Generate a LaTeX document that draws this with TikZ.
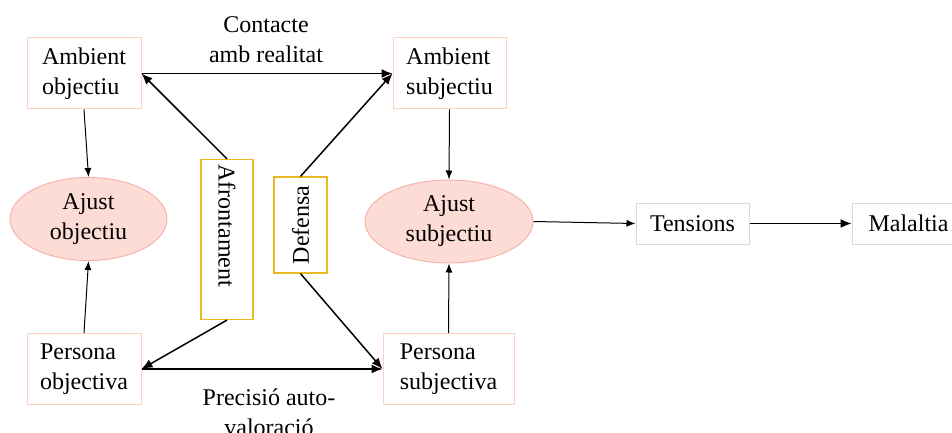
\documentclass[tikz,border=0pt]{standalone}
\usepackage{fontspec}
\setmainfont{Liberation Serif}
\usetikzlibrary{shapes.geometric,arrows.meta}

\definecolor{peachline}{HTML}{FAD2BE}
\definecolor{blobfill}{HTML}{FDDCD6}
\definecolor{blobline}{HTML}{F4B4AA}
\definecolor{goldline}{HTML}{E8B923}
\definecolor{greyline}{HTML}{D9D9D9}

\tikzset{
	mainbox/.style={draw=peachline, line width=1pt, fill=white, align=left,
		minimum height=71pt, inner xsep=0pt},
	fitblob/.style={ellipse, draw=blobline, line width=1pt, fill=blobfill,
		align=center, minimum height=83pt, inner sep=0pt},
	copebox/.style={draw=goldline, line width=1.2pt, fill=white},
	endbox/.style={draw=greyline, line width=1pt, fill=white,
		minimum width=113pt, minimum height=41pt},
	link/.style={-{Latex[length=9pt,width=7pt]}, line width=1pt},
	thick link/.style={-{Latex[length=11pt,width=9pt]}, line width=1.5pt},
}

\begin{document}
\begin{tikzpicture}[x=1pt, y=-1pt, font=\fontsize{24}{30}\selectfont]

	\useasboundingbox (0,0) rectangle (952,433);

	% ---- the four persona / ambient boxes

	\node[mainbox, minimum width=114pt] (AO) at (84,73.5) {Ambient\\objectiu};
	\node[mainbox, minimum width=113pt] (AS) at (449.5,73.5) {Ambient\\subjectiu};
	\node[mainbox, minimum width=114pt] (PO) at (84,369) {Persona\\objectiva};
	\node[mainbox, minimum width=131pt] (PS) at (448.5,369) {Persona\\subjectiva};

	% ---- fit

	\node[fitblob, minimum width=157pt] (JO) at (88.5,219) {Ajust\\objectiu};
	\node[fitblob, minimum width=168pt] (JS) at (449,221.5) {Ajust\\subjectiu};

	% ---- coping (rotated)

	\node[copebox, rotate=-90, minimum width=160pt, minimum height=52pt,
		inner xsep=5pt, text width=150pt, align=left] (AF) at (227,239.5) {Afrontament};
	\node[copebox, rotate=90, minimum width=96pt, minimum height=53pt] (DF) at (300.5,225) {Defensa};

	% ---- outcome

	\node[endbox] (TN) at (692.5,223.5) {Tensions};
	\node[endbox] (ML) at (908.5,223.5) {Malaltia};

	% ---- labels

	\node[align=center] (contacte) at (266,40) {Contacte\\amb realitat};
	\node[align=center] (precisio) at (269,412) {Precisió auto-\\valoració};

	% ---- connectors

	\draw[thick link] (AO.east) -- (AS.west);
	\draw[thick link] (PO.east) -- (PS.west);
	\draw[thick link] (AF.west) -- (AO.east);
	\draw[thick link] (AF.east) -- (PO.east);
	\draw[thick link] (DF.east) -- (AS.west);
	\draw[thick link] (DF.west) -- (PS.west);

	\draw[link] (AO.south) -- (JO.north);
	\draw[link] (PO.north) -- (JO.south);
	\draw[link] (AS.south) -- (JS.north);
	\draw[link] (PS.north) -- (JS.south);

	\draw[link] (JS.east) -- (TN.west);
	\draw[thick link] (TN.east) -- (ML.west);

\end{tikzpicture}
\end{document}
